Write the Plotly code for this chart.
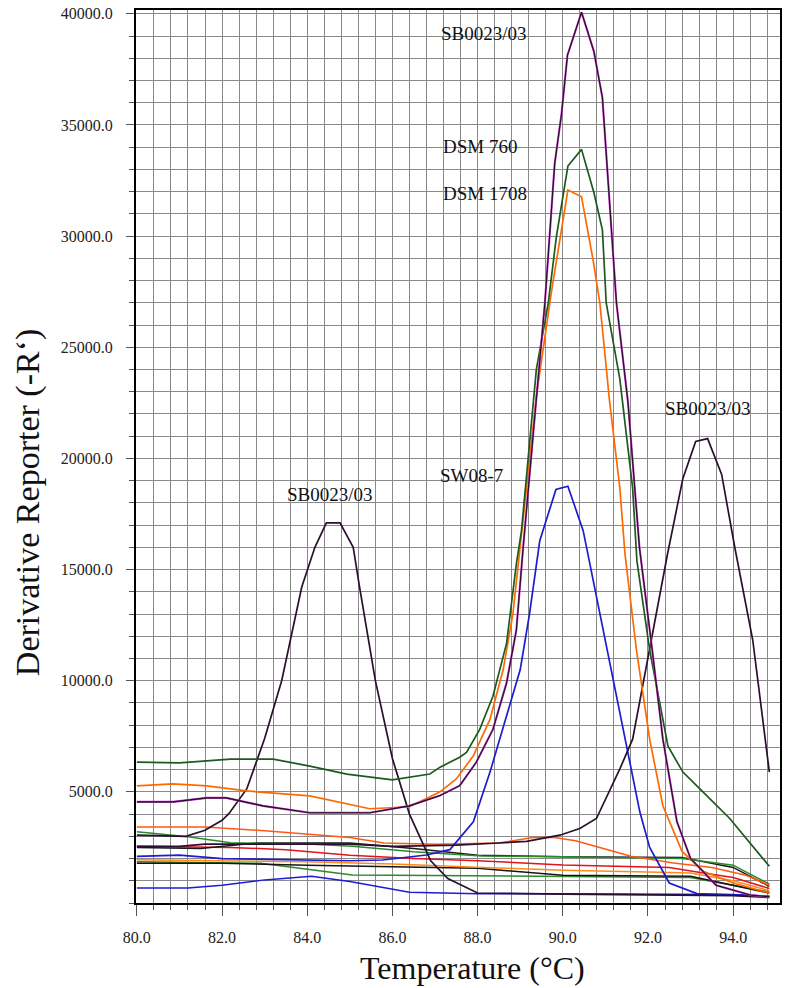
import plotly.graph_objects as go

# ---------------- data ----------------
sb84_x = [80, 81.15, 81.6, 82.0, 82.16, 82.58, 83.0, 83.4, 83.87, 84.18, 84.45, 84.77, 85.08, 85.23, 85.6, 86.0, 86.4, 86.9, 87.3, 88.0, 90, 92, 94, 94.85]
sb84_y = [3050, 3000, 3270, 3720, 4020, 5130, 7400, 10000, 14200, 16000, 17100, 17100, 16000, 14200, 10000, 6500, 4000, 1900, 1100, 450, 400, 380, 330, 250]

sb90_x = [80, 80.85, 81.64, 82.1, 82.96, 84.06, 85.47, 86.4, 87.11, 87.58, 87.97, 88.36, 88.68, 88.91, 89.07, 89.38, 89.58, 89.81, 89.97, 90.11, 90.44, 90.73, 90.93, 91.26, 91.53, 91.69, 91.8, 92.1, 92.35, 92.68, 93.0, 93.6, 94.4, 94.85]
sb90_y = [4550, 4550, 4730, 4730, 4370, 4060, 4060, 4370, 4830, 5280, 6330, 7810, 9900, 12280, 16000, 22500, 27000, 33260, 35490, 38140, 40070, 38310, 36230, 27000, 22540, 18660, 16000, 11380, 7370, 3660, 2000, 800, 360, 280]

dsm1708_x = [80, 80.85, 81.64, 82.58, 84.06, 85.47, 86.4, 87.11, 87.5, 87.9, 88.29, 88.6, 88.83, 89.0, 89.38, 89.73, 90.12, 90.44, 90.71, 90.87, 91.1, 91.34, 91.46, 91.73, 92.04, 92.35, 92.8, 93.3, 94.0, 94.85]
dsm1708_y = [5270, 5360, 5270, 5040, 4820, 4240, 4330, 4990, 5580, 6620, 8260, 10490, 13020, 16000, 22800, 27450, 32070, 31770, 28940, 27000, 22540, 18660, 15710, 11380, 7370, 4375, 2320, 1430, 900, 450]

dsm760_x = [80, 81.0, 82.2, 83.2, 84.06, 84.93, 86.0, 86.88, 87.11, 87.58, 87.74, 88.05, 88.36, 88.68, 88.91, 89.03, 89.38, 89.66, 89.85, 90.12, 90.44, 90.73, 90.93, 91.02, 91.34, 91.64, 91.74, 92.04, 92.47, 92.82, 93.29, 93.92, 94.85]
dsm760_y = [6340, 6300, 6470, 6470, 6160, 5800, 5540, 5800, 6100, 6560, 6770, 7810, 9300, 11680, 15250, 16740, 24000, 27000, 29980, 33150, 33900, 31960, 30280, 27000, 23570, 18660, 15400, 11380, 7050, 5890, 5000, 3800, 1650]

sw087_x = [80, 81, 82, 83.5, 85, 85.77, 86.8, 87.35, 87.9, 88.29, 88.68, 89.0, 89.22, 89.46, 89.84, 90.12, 90.48, 90.79, 91.03, 91.26, 91.5, 91.81, 92.04, 92.5, 93.15, 94.0, 94.85]
sw087_y = [2100, 2150, 2000, 1950, 1900, 1935, 2160, 2400, 3650, 5880, 8400, 10490, 13020, 16300, 18600, 18750, 16740, 13760, 11530, 9300, 7070, 4090, 2500, 900, 420, 360, 300]

sb93_x = [80, 81, 81.6, 84, 85, 86, 87.5, 88.5, 89.15, 89.93, 90.4, 90.79, 91.34, 91.64, 91.8, 92.04, 92.46, 92.82, 93.12, 93.4, 93.73, 94.04, 94.46, 94.85]
sb93_y = [2550, 2550, 2650, 2650, 2650, 2550, 2600, 2700, 2770, 3050, 3350, 3800, 6030, 7370, 9000, 11380, 15710, 19100, 20760, 20890, 19280, 15980, 11830, 5890]

base_orange_x = [80, 81.6, 83, 85, 85.8, 87, 88.5, 89.3, 89.8, 90.3, 91.6, 92.6, 93.5, 94.3, 94.85]
base_orange_y = [3420, 3420, 3250, 2950, 2700, 2640, 2700, 2950, 2950, 2800, 2100, 1800, 1600, 1250, 800]

base_green_x = [80, 81.2, 82.2, 84, 85.06, 86.5, 88.1, 90, 92.8, 94, 94.85]
base_green_y = [3200, 2980, 2710, 2650, 2550, 2300, 2110, 2080, 2000, 1700, 850]

base_black_x = [80, 81.5, 82.8, 85, 86.5, 88, 90, 92.8, 94, 94.85]
base_black_y = [2500, 2450, 2700, 2700, 2450, 2150, 2080, 2050, 1600, 750]

base_red_x = [80, 82.2, 83.5, 85, 86.5, 88, 90, 92.5, 93.3, 94, 94.85]
base_red_y = [2550, 2500, 2400, 2150, 2000, 1900, 1710, 1600, 1350, 1150, 650]

base_orange2_x = [80, 82, 84, 86, 88, 90, 92, 93, 94, 94.85]
base_orange2_y = [1950, 1900, 1850, 1750, 1620, 1470, 1400, 1350, 1000, 550]

base_black2_x = [80, 82, 84, 86, 88, 90, 93, 94.85]
base_black2_y = [1790, 1790, 1700, 1640, 1560, 1250, 1200, 450]

base_green2_x = [80, 82.9, 85.06, 87, 90, 93, 94.85]
base_green2_y = [1850, 1790, 1265, 1230, 1200, 1150, 500]

base_blue_x = [80, 81.2, 82, 83, 84.1, 85, 86.4, 88, 90, 92, 94, 94.85]
base_blue_y = [670, 670, 800, 1040, 1200, 970, 480, 420, 420, 400, 380, 300]

x_ticks = [80, 82, 84, 86, 88, 90, 92, 94]
y_ticks = [5000, 10000, 15000, 20000, 25000, 30000, 35000, 40000]

labels = ["SB0023/03", "DSM 760", "DSM 1708", "SB0023/03", "SW08-7", "SB0023/03"]

# ---------------- figure ----------------
FONT = "Liberation Serif, Times New Roman, serif"
fig = go.Figure()

def add(x, y, color, width=1.5):
    fig.add_trace(go.Scatter(x=x, y=y, mode="lines", line=dict(color=color, width=width),
                             showlegend=False, hoverinfo="skip"))

add(base_blue_x, base_blue_y, "#1c1cd6")
add(base_green2_x, base_green2_y, "#2a8a2a")
add(base_black2_x, base_black2_y, "#151515")
add(base_orange2_x, base_orange2_y, "#ff8a1a")
add(base_red_x, base_red_y, "#e0141a")
add(base_black_x, base_black_y, "#1a1a1a")
add(base_green_x, base_green_y, "#2a8a2a")
add(base_orange_x, base_orange_y, "#ff5a14")
add(sw087_x, sw087_y, "#1c1cd0", 1.7)
add(sb93_x, sb93_y, "#2a0f2e", 1.7)
add(sb84_x, sb84_y, "#2a0f2e", 1.7)
add(dsm1708_x, dsm1708_y, "#ff6a00", 1.7)
add(dsm760_x, dsm760_y, "#1d5a1d", 1.7)
add(sb90_x, sb90_y, "#c040c0", 2.1)
add(sb90_x, sb90_y, "#240c24", 1.1)

grid = "#8a8a8a"
fig.update_layout(
    width=787, height=988,
    margin=dict(l=136, r=5, t=6, b=85),
    paper_bgcolor="white", plot_bgcolor="white",
    font=dict(family=FONT, color="#1a1a1a"),
    xaxis=dict(range=[79.98, 95.1], tickmode="array", tickvals=x_ticks,
               ticktext=[f"{v:.1f}" for v in x_ticks],
               ticks="outside", ticklen=11, tickwidth=1, tickcolor="#555",
               showline=True, linecolor="black", linewidth=2, mirror=True,
               showgrid=True, gridcolor=grid, gridwidth=1, zeroline=False,
               tickfont=dict(family=FONT, size=16, color="#222"), ticklabelstandoff=8,
               minor=dict(tickmode="linear", tick0=80, dtick=0.4, ticks="outside", ticklen=5,
                          tickcolor="#555", showgrid=True, gridcolor=grid, gridwidth=1)),
    yaxis=dict(range=[0, 40170], tickmode="array", tickvals=y_ticks,
               ticktext=[f"{v:.1f}" for v in y_ticks],
               ticks="outside", ticklen=8, tickwidth=1, tickcolor="#555",
               showline=True, linecolor="black", linewidth=2, mirror=True,
               showgrid=True, gridcolor=grid, gridwidth=1, zeroline=False,
               tickfont=dict(family=FONT, size=16, color="#222"), ticklabelstandoff=10,
               minor=dict(tickmode="linear", tick0=0, dtick=1000, ticks="outside", ticklen=5,
                          tickcolor="#555", showgrid=True, gridcolor=grid, gridwidth=1)),
)

label_pos = [(88.15, 39095), (88.05, 34012), (88.17, 31930), (93.41, 22257), (87.86, 19243), (84.54, 18361)]
for txt, (lx, ly) in zip(labels, label_pos):
    fig.add_annotation(x=lx, y=ly, text=txt, showarrow=False, xanchor="center", yanchor="middle",
                       font=dict(family=FONT, size=19, color="#111"))

fig.add_annotation(xref="paper", yref="paper", x=(474 - 136) / 646, y=(903 - 968) / 897,
                   text="Temperature (°C)", showarrow=False, xanchor="center", yanchor="middle",
                   font=dict(family=FONT, size=32, color="#111"))
fig.add_annotation(xref="paper", yref="paper", x=(27 - 136) / 646, y=(903 - 501) / 897,
                   text="Derivative Reporter (-R‘)", showarrow=False, textangle=-90,
                   xanchor="center", yanchor="middle",
                   font=dict(family=FONT, size=34, color="#111"))

fig.write_html("out.html")
